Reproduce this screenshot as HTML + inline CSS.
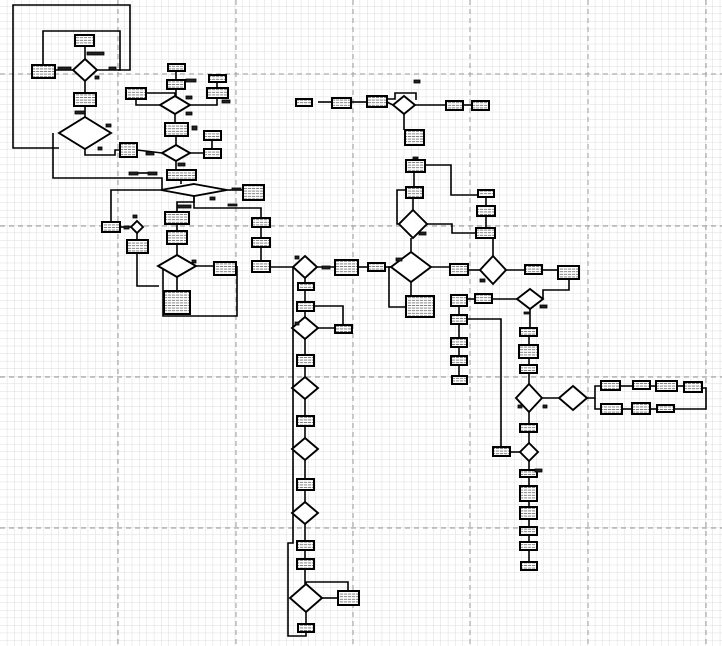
<!DOCTYPE html>
<html><head><meta charset="utf-8"><style>
html,body{margin:0;padding:0;background:#fff;}
svg{display:block}
.b{fill:url(#tx);stroke:#000;stroke-width:2}
.d{fill:#fff;stroke:#000;stroke-width:1.9}
.l{fill:none;stroke:#000;stroke-width:1.6}
.k{fill:#222;stroke:#000;stroke-width:0.8}
</style></head><body>
<svg width="722" height="646" viewBox="0 0 722 646" xmlns="http://www.w3.org/2000/svg">
<defs>
<pattern id="mn" x="-0.5" y="-1.5" width="7.35" height="7.55" patternUnits="userSpaceOnUse">
<path d="M0 0H7.35M0 0V7.55" stroke="#dcdcdc" stroke-width="1" fill="none"/>
</pattern>
<pattern id="tx" width="4" height="2.6" patternUnits="userSpaceOnUse">
<rect width="4" height="2.6" fill="#fff"/><path d="M0 1.3H3.2" stroke="#777" stroke-width="0.9"/>
</pattern>
</defs>
<rect width="722" height="646" fill="#fff"/>
<rect width="722" height="646" fill="url(#mn)"/>
<g stroke="#aaa" stroke-width="1.2" stroke-dasharray="5,4">
<path d="M118 0V646M236 0V646M353 0V646M470 0V646M588 0V646M706 0V646"/>
<path d="M0 74H722M0 226H722M0 377H722M0 528H722"/>
</g>
<g class="l">
<polyline points="59,148 13,148 13,5 130,5 130,70 118,70"/>
<polyline points="43,67 43,31 120,31 120,70 97,70"/>
<polyline points="85,59 85,46"/><polyline points="73,70 55,70"/>
<polyline points="85,81 85,93"/><polyline points="85,106 85,117"/>
<polyline points="85,149 85,155 115,155 115,150 120,150"/>
<polyline points="137,150 162,153"/>
<polyline points="53,133 53,178 162,178 162,190"/>
<polyline points="176,71 176,80"/><polyline points="176,89 176,96"/>
<polyline points="136,99 136,105 160,105"/><polyline points="146,93 175,93 175,96"/>
<polyline points="190,105 217,105 217,98"/><polyline points="217,82 217,88"/>
<polyline points="175,114 175,123"/><polyline points="176,136 176,145"/>
<polyline points="190,153 212,153 212,140"/><polyline points="176,161 176,170"/>
<polyline points="181,180 181,184"/><polyline points="227,190 243,190"/>
<polyline points="161,190 111,190 111,222"/><polyline points="120,227 131,227"/>
<polyline points="137,233 137,240"/><polyline points="137,253 137,286 159,286"/>
<polyline points="194,196 194,208 261,208 261,218"/>
<polyline points="194,196 194,202 177,202 177,212"/>
<polyline points="177,224 177,231"/><polyline points="177,244 177,255"/>
<polyline points="196,266 214,266"/><polyline points="177,277 177,291"/>
<polyline points="163,266 163,316 237,316 237,266"/>
<polyline points="261,227 261,238"/><polyline points="261,247 261,261"/>
<polyline points="270,267 293,267"/>
<polyline points="317,267 335,267"/><polyline points="358,267 368,267"/><polyline points="385,267 391,267"/>
<polyline points="305,278 305,283"/><polyline points="305,290 305,302"/><polyline points="305,311 305,317"/>
<polyline points="314,306 343,306 343,325"/><polyline points="318,328 335,328"/>
<polyline points="305,339 305,355"/><polyline points="305,366 305,377"/><polyline points="305,399 305,417"/>
<polyline points="305,425 305,438"/><polyline points="305,460 305,479"/><polyline points="305,490 305,502"/>
<polyline points="305,524 305,541"/><polyline points="305,550 305,560"/><polyline points="305,568 305,584"/>
<polyline points="322,598 338,598"/><polyline points="306,586 306,582 348,582 348,591"/>
<polyline points="306,612 306,624"/>
<polyline points="293,267 293,543 288,543 288,636 306,636 306,632"/>
<polyline points="391,267 389,267 389,307 406,307"/><polyline points="411,282 411,296"/>
<polyline points="431,267 450,267"/><polyline points="468,270 480,270"/>
<polyline points="506,270 525,270"/><polyline points="542,270 558,270"/>
<polyline points="569,279 569,290 543,290 543,299"/>
<polyline points="411,252 411,238"/><polyline points="413,210 413,198"/><polyline points="414,187 414,172"/>
<polyline points="399,224 397,224 397,190 406,190"/>
<polyline points="427,224 452,224 452,233 476,233"/>
<polyline points="425,165 451,165 451,195 478,195"/>
<polyline points="486,197 486,206"/><polyline points="486,216 486,228"/><polyline points="493,256 493,238"/>
<polyline points="318,102 332,102"/><polyline points="351,102 367,102"/><polyline points="387,102 393,105"/>
<polyline points="388,99 395,99 395,93 416,93 416,100"/>
<polyline points="415,105 446,105"/><polyline points="463,105 472,105"/><polyline points="404,114 404,130"/>
<polyline points="517,299 492,299"/><polyline points="475,299 467,299"/>
<polyline points="459,306 459,315"/><polyline points="459,324 459,338"/><polyline points="459,347 459,356"/><polyline points="459,365 459,376"/>
<polyline points="467,319 501,319 501,448"/>
<polyline points="530,309 530,328"/><polyline points="529,336 529,345"/><polyline points="529,358 529,365"/>
<polyline points="529,373 529,384"/><polyline points="529,412 529,424"/><polyline points="529,432 529,443"/>
<polyline points="520,452 510,452"/><polyline points="529,461 529,470"/><polyline points="529,477 529,486"/>
<polyline points="529,501 529,507"/><polyline points="529,519 529,527"/><polyline points="529,535 529,542"/><polyline points="529,550 529,562"/>
<polyline points="542,398 559,398"/>
<polyline points="587,398 595,398 595,386 601,386"/><polyline points="595,398 595,409 601,409"/>
<polyline points="620,386 633,386"/><polyline points="650,386 656,386"/><polyline points="677,386 684,386"/>
<polyline points="702,388 706,388 706,409 674,409"/><polyline points="622,409 632,409"/><polyline points="650,409 657,409"/>
<polyline points="138,173 148,173"/>
</g>
<g>
<polygon class="d" points="85,59 97,70 85,81 73,70"/>
<polygon class="d" points="85,117 111,133 85,149 59,133"/>
<polygon class="d" points="175,96 190,105 175,114 160,105"/>
<polygon class="d" points="176,145 190,153 176,161 162,153"/>
<polygon class="d" points="194,184 227,190 194,196 161,190"/>
<polygon class="d" points="137,221 143,227 137,233 131,227"/>
<polygon class="d" points="177,255 196,266 177,277 158,266"/>
<polygon class="d" points="305,256 317,267 305,278 293,267"/>
<polygon class="d" points="305,317 318,328 305,339 292,328"/>
<polygon class="d" points="305,377 318,388 305,399 292,388"/>
<polygon class="d" points="305,438 318,449 305,460 292,449"/>
<polygon class="d" points="305,502 318,513 305,524 292,513"/>
<polygon class="d" points="306,584 322,598 306,612 290,598"/>
<polygon class="d" points="411,252 431,267 411,282 391,267"/>
<polygon class="d" points="413,210 427,224 413,238 399,224"/>
<polygon class="d" points="493,256 506,270 493,284 480,270"/>
<polygon class="d" points="404,96 415,105 404,114 393,105"/>
<polygon class="d" points="530,289 543,299 530,309 517,299"/>
<polygon class="d" points="529,384 542,398 529,412 516,398"/>
<polygon class="d" points="529,443 538,452 529,461 520,452"/>
<polygon class="d" points="573,386 587,398 573,410 559,398"/>
</g>
<g class="b">
<rect x="75" y="35" width="19" height="11"/><rect x="32" y="65" width="23" height="13"/>
<rect x="74" y="93" width="22" height="13"/><rect x="120" y="143" width="17" height="14"/>
<rect x="168" y="64" width="17" height="7"/><rect x="167" y="80" width="18" height="9"/>
<rect x="126" y="88" width="20" height="11"/><rect x="209" y="75" width="17" height="7"/>
<rect x="207" y="88" width="21" height="10"/><rect x="165" y="123" width="23" height="13"/>
<rect x="204" y="131" width="17" height="9"/><rect x="204" y="149" width="17" height="9"/>
<rect x="167" y="170" width="29" height="10"/><rect x="243" y="185" width="21" height="15"/>
<rect x="102" y="222" width="18" height="10"/><rect x="127" y="240" width="21" height="13"/>
<rect x="165" y="212" width="24" height="12"/><rect x="167" y="231" width="20" height="13"/>
<rect x="214" y="262" width="22" height="13"/><rect x="164" y="291" width="26" height="23"/>
<rect x="252" y="218" width="18" height="9"/><rect x="252" y="238" width="18" height="9"/>
<rect x="252" y="261" width="18" height="11"/>
<rect x="335" y="260" width="23" height="15"/><rect x="298" y="283" width="16" height="7"/>
<rect x="297" y="302" width="17" height="9"/><rect x="335" y="325" width="17" height="8"/>
<rect x="297" y="355" width="17" height="11"/><rect x="297" y="416" width="17" height="10"/>
<rect x="297" y="479" width="17" height="11"/><rect x="297" y="541" width="17" height="9"/>
<rect x="297" y="559" width="17" height="10"/><rect x="338" y="591" width="21" height="14"/>
<rect x="298" y="624" width="16" height="8"/>
<rect x="368" y="263" width="17" height="8"/><rect x="406" y="296" width="28" height="21"/>
<rect x="450" y="264" width="18" height="11"/><rect x="525" y="265" width="17" height="9"/>
<rect x="558" y="266" width="21" height="13"/><rect x="406" y="187" width="17" height="11"/>
<rect x="406" y="160" width="19" height="12"/><rect x="476" y="228" width="19" height="10"/>
<rect x="477" y="206" width="18" height="10"/><rect x="478" y="190" width="16" height="7"/>
<rect x="296" y="99" width="16" height="7"/><rect x="332" y="98" width="19" height="10"/>
<rect x="367" y="96" width="20" height="11"/><rect x="446" y="101" width="17" height="9"/>
<rect x="472" y="101" width="17" height="9"/><rect x="405" y="130" width="19" height="15"/>
<rect x="475" y="294" width="17" height="9"/><rect x="451" y="295" width="16" height="11"/>
<rect x="451" y="315" width="16" height="9"/><rect x="451" y="338" width="16" height="9"/>
<rect x="451" y="356" width="16" height="9"/><rect x="452" y="376" width="15" height="8"/>
<rect x="493" y="447" width="17" height="9"/>
<rect x="520" y="328" width="17" height="8"/><rect x="519" y="345" width="19" height="13"/>
<rect x="520" y="365" width="17" height="8"/><rect x="520" y="424" width="17" height="8"/>
<rect x="520" y="470" width="17" height="7"/><rect x="520" y="486" width="17" height="15"/>
<rect x="520" y="507" width="17" height="12"/><rect x="520" y="527" width="17" height="8"/>
<rect x="520" y="542" width="17" height="8"/><rect x="521" y="562" width="16" height="8"/>
<rect x="601" y="381" width="19" height="9"/><rect x="633" y="381" width="17" height="8"/>
<rect x="656" y="381" width="21" height="10"/><rect x="684" y="382" width="18" height="10"/>
<rect x="601" y="404" width="21" height="10"/><rect x="632" y="403" width="18" height="11"/>
<rect x="657" y="405" width="17" height="7"/>
</g>
<g class="k">
<rect x="58" y="67" width="13" height="3"/><rect x="109" y="67" width="7" height="3"/>
<rect x="87" y="52" width="17" height="3"/><rect x="95" y="76" width="4" height="3"/>
<rect x="75" y="111" width="10" height="3"/><rect x="106" y="124" width="5" height="3"/>
<rect x="98" y="147" width="4" height="3"/><rect x="146" y="152" width="8" height="3"/>
<rect x="186" y="79" width="10" height="3"/><rect x="186" y="96" width="6" height="3"/>
<rect x="186" y="112" width="6" height="3"/><rect x="222" y="100" width="8" height="3"/>
<rect x="192" y="126" width="5" height="4"/><rect x="178" y="163" width="7" height="3"/>
<rect x="129" y="172" width="9" height="3"/><rect x="148" y="172" width="9" height="3"/>
<rect x="232" y="188" width="9" height="2"/><rect x="210" y="197" width="5" height="3"/>
<rect x="124" y="226" width="5" height="3"/><rect x="133" y="215" width="4" height="3"/>
<rect x="177" y="205" width="14" height="3"/><rect x="228" y="204" width="9" height="2"/>
<rect x="192" y="260" width="4" height="3"/><rect x="322" y="266" width="8" height="3"/>
<rect x="295" y="256" width="4" height="3"/><rect x="295" y="322" width="4" height="3"/>
<rect x="414" y="80" width="6" height="3"/><rect x="419" y="232" width="7" height="3"/>
<rect x="413" y="157" width="5" height="2"/><rect x="396" y="258" width="6" height="3"/>
<rect x="480" y="279" width="5" height="3"/><rect x="540" y="305" width="7" height="3"/>
<rect x="524" y="312" width="6" height="2"/><rect x="535" y="469" width="7" height="3"/>
<rect x="543" y="405" width="4" height="3"/><rect x="518" y="405" width="4" height="3"/>
</g>
</svg>
</body></html>
